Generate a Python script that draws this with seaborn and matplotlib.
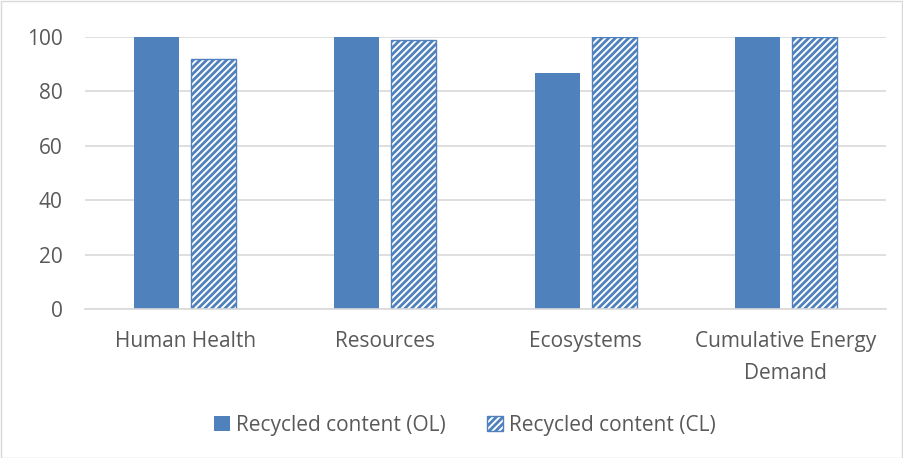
import pandas as pd
import matplotlib
matplotlib.use("Agg")
import matplotlib.pyplot as plt
import seaborn as sns
from matplotlib.patches import Patch, Rectangle

categories = ["Human Health", "Resources", "Ecosystems", "Cumulative Energy\nDemand"]
series_names = ["Recycled content (OL)", "Recycled content (CL)"]
ol_values = [100, 100, 86.8, 100]
cl_values = [91.9, 98.8, 100, 100]
y_ticks = [0, 20, 40, 60, 80, 100]

blue = "#4F81BD"
text_gray = "#595959"
grid_gray = "#D9D9D9"

df = pd.DataFrame({
    "category": categories * 2,
    "series": [series_names[0]] * 4 + [series_names[1]] * 4,
    "value": ol_values + cl_values,
})

sns.set_theme(style="white")
plt.rcParams["font.family"] = ["Open Sans", "DejaVu Sans"]
plt.rcParams["hatch.linewidth"] = 2.0
plt.rcParams["hatch.color"] = blue

fig = plt.figure(figsize=(9.04, 4.58), dpi=100)
ax = fig.add_axes([85 / 904, 1 - 309 / 458, (886 - 85) / 904, (309 - 37) / 458])

sns.barplot(data=df, x="category", y="value", hue="series", order=categories,
            hue_order=series_names, palette=[blue, blue], width=0.57, gap=0.21,
            saturation=1, legend=False, ax=ax)

for bar in ax.containers[0]:
    bar.set_edgecolor("none")
for bar in ax.containers[1]:
    bar.set_facecolor("white")
    bar.set_edgecolor(blue)
    bar.set_hatch("/////")
    bar.set_linewidth(1.0)

ax.set_ylim(0, 100)
ax.set_yticks(y_ticks)
ax.yaxis.grid(True, color=grid_gray, linewidth=1.2)
ax.set_axisbelow(True)
for side in ["top", "right", "left"]:
    ax.spines[side].set_visible(False)
ax.spines["bottom"].set_color(grid_gray)
ax.spines["bottom"].set_linewidth(1.2)
ax.tick_params(axis="y", length=0, pad=16, labelsize=15, labelcolor=text_gray)
ax.tick_params(axis="x", length=0, pad=16, labelsize=15, labelcolor=text_gray)
for lbl in ax.get_xticklabels():
    lbl.set_linespacing(1.7)
ax.set_xlabel("")
ax.set_ylabel("")

handles = [
    Patch(facecolor=blue, edgecolor="none"),
    Patch(facecolor="white", edgecolor=blue, hatch="/////", linewidth=1.0),
]
fig.legend(handles, series_names, loc="center", bbox_to_anchor=(465 / 904, 1 - 425 / 458),
           ncol=2, frameon=False, fontsize=15, labelcolor=text_gray,
           handlelength=0.75, handleheight=0.75, handletextpad=0.3, columnspacing=2.0)

fig.patches.append(Rectangle((0.001, 0.001), 0.997, 0.997, transform=fig.transFigure,
                             fill=False, edgecolor=grid_gray, linewidth=1.0))

fig.savefig("out.png", dpi=100)
